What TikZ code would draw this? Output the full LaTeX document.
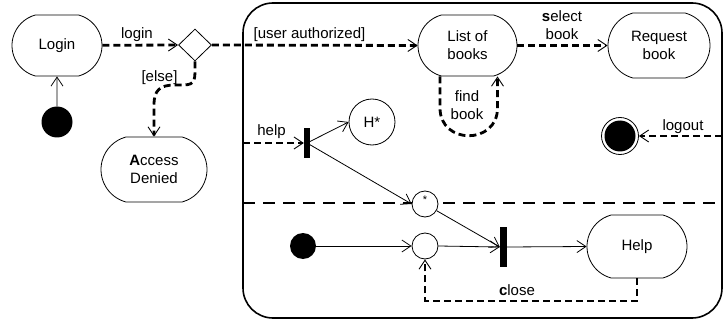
\documentclass[tikz,border=0pt]{standalone}
\usepackage{fontspec}
\setmainfont{Liberation Sans}
\usetikzlibrary{arrows.meta,shapes.geometric,shapes.misc,calc}

\begin{document}
\begin{tikzpicture}[x=1pt,y=-1pt,
  font=\fontsize{15}{18}\selectfont,
  state/.style={draw,line width=0.8pt,rounded rectangle,rounded rectangle arc length=150,align=center,inner sep=0pt},
  dot/.style={circle,fill=black,inner sep=0pt},
  ring/.style={circle,draw,line width=0.8pt,fill=white,inner sep=0pt},
  syncbar/.style={rectangle,fill=black,inner sep=0pt},
  flow/.style={line width=0.8pt,-{Straight Barb[length=9pt,width=12pt,line width=0.8pt]}},
  trans/.style={line width=2.8pt,dash pattern=on 7pt off 4pt,-{Straight Barb[length=9pt,width=12pt,line width=0.9pt]}},
  lbl/.style={inner sep=1pt,align=center}
]
\useasboundingbox (0,0) rectangle (724,321);

% outer activity region
\node[draw,line width=1.6pt,rounded corners=30pt,minimum width=479pt,minimum height=315pt,inner sep=0pt,outer sep=0pt] (region) at (482.5,160.5) {};
\coordinate (divy) at (0,203);
\draw[line width=2.8pt,dash pattern=on 12pt off 8pt] (region.west |- divy) -- (region.east |- divy);

% states outside the region
\node[state,minimum width=90pt,minimum height=61pt] (login) at (57,45.5) {Login};
\node[dot,minimum size=31pt] (start) at (57,122) {};
\node[diamond,draw,line width=0.8pt,minimum width=33pt,minimum height=32pt,inner sep=0pt] (dec) at (195,45) {};
\node[state,minimum width=106pt,minimum height=65pt] (denied) at (154,169.5) {{\bfseries A}ccess\\Denied};

% upper part of the region
\node[state,minimum width=99pt,minimum height=61pt] (list) at (467.5,45.5) {List of\\books};
\node[state,minimum width=102pt,minimum height=65pt] (request) at (659,45.5) {Request\\book};
\node[syncbar,minimum width=6pt,minimum height=30pt] (fork) at (307,143) {};
\node[ring,minimum size=46pt] (hist) at (372,122) {H*};
\node[ring,minimum size=37pt] (final) at (620,136) {};
\node[dot,minimum size=31pt] (finaldot) at (final.center) {};

% lower part of the region
\node[ring,minimum size=26pt] (star) at (425,204) {};
\node[font=\fontsize{11}{11}\selectfont,inner sep=0pt] (starlbl) at (425,200) {*};
\node[dot,minimum size=26pt] (start2) at (303,246) {};
\node[ring,minimum size=26pt] (junc) at (425,246) {};
\node[syncbar,minimum width=7pt,minimum height=40pt] (join) at (503.5,247) {};
\node[state,minimum width=100pt,minimum height=63pt] (help) at (637,246.5) {Help};

% transitions
\draw[flow] (start) -- (login);
\draw[trans] (login) -- (dec.west);
\node[lbl] (lbllogin) at (137,35) {login};

\draw[trans] (dec.south) -- (195,72) .. controls (195,86) and (190,85) .. (175,85)
  .. controls (160,85) and (154,90) .. (154,105) -- (denied.north);
\node[lbl] (lblelse) at (159.5,78) {[else]};

\draw[trans] (dec.east) -- (list.west);
\node[lbl] (lblauth) at (309.5,35) {[user authorized]};

\draw[trans] (list.east) -- (request.west);
\node[lbl] (lblsel) at (562,25) {{\bfseries s}elect\\book};

\coordinate (fbA) at ([xshift=-27.5pt]list.south);
\coordinate (fbB) at ([xshift=30pt]list.south);
\draw[trans] (fbA) -- (440,108) .. controls (440,145) and (497.5,145) .. (497.5,108) -- (fbB);
\node[lbl] (lblfind) at (467,105) {find\\book};

\draw[trans] (region.west |- fork) -- (fork.west);
\node[lbl] (lblhelp) at (271.5,132) {help};

\draw[flow] (fork.center) -- (hist.west);
\draw[flow] (fork.center) -- (star.west);

\draw[trans] (region.east |- final) -- (final.east);
\node[lbl] (lbllogout) at (683,127) {logout};

\draw[flow] (start2) -- (junc);
\draw[flow] (junc.east) -- (join.west);
\draw[flow] (star) -- (join.west);
\draw[flow] (join.east) -- (help.west);

\draw[trans] (help.south) -- ++(0,22.5) -| (junc.south);
\node[lbl] (lblclose) at (517,290) {{\bfseries c}lose};
\end{tikzpicture}
\end{document}
